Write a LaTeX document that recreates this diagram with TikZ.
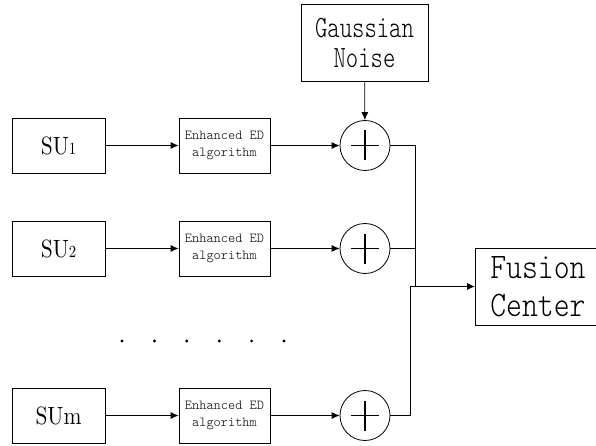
\documentclass[tikz,border=0pt]{standalone}
\usepackage{fontspec}
\newfontfamily\sufont[FakeStretch=0.86]{lmroman10-regular.otf}
\newfontfamily\edfont{lmmonolt10-regular.otf}
\newfontfamily\tallfont[FakeStretch=0.76]{lmmonolt10-regular.otf}
\newfontfamily\fusionfont[FakeStretch=0.84]{lmmonolt10-regular.otf}
\usetikzlibrary{arrows.meta, positioning}

\begin{document}
\begin{tikzpicture}[x=1pt, y=1pt, line width=0.8pt]
    % settings for the whole picture
    \tikzset{
      >={Latex[length=8pt, width=7pt]},
      subox/.style={draw, minimum width=93pt, minimum height=55pt, inner sep=0pt,
        font=\sufont\fontsize{25}{25}\selectfont},
      edbox/.style={draw, minimum width=91pt, minimum height=55pt, inner sep=0pt,
        align=center, font=\edfont\fontsize{13.7}{17}\selectfont},
      adder/.style={draw, circle, minimum size=50pt, inner sep=0pt,
        path picture={
          \draw[line width=1.8pt]
            ([xshift=-14pt]path picture bounding box.center) -- ([xshift=14pt]path picture bounding box.center)
            ([yshift=-15pt]path picture bounding box.center) -- ([yshift=15pt]path picture bounding box.center);
        }},
      bigbox/.style={draw, minimum height=77pt, inner sep=0pt, align=center},
    }
    \useasboundingbox (0,0) rectangle (596,-446);

    % secondary users
    \node[subox] (su1) at (58.5,-145.5) {SU{\fontsize{17}{17}\selectfont 1}};
    \node[subox] (su2) at (58.5,-248.5) {SU{\fontsize{17}{17}\selectfont 2}};
    \node[subox] (sum) at (58.5,-415.5) {SUm};

    % detectors
    \node[edbox] (ed1) at (224.5,-145.5) {Enhanced ED\\algorithm};
    \node[edbox] (ed2) at (224.5,-248.5) {Enhanced ED\\algorithm};
    \node[edbox] (edm) at (224.5,-415.5) {Enhanced ED\\algorithm};

    % adders
    \node[adder] (add1) at (365,-145.5) {};
    \node[adder] (add2) at (365,-248.5) {};
    \node[adder] (addm) at (365,-415.5) {};

    \node[bigbox, minimum width=127pt, font=\tallfont\fontsize{31}{30}\selectfont]
      (noise) at (364.5,-42.5) {Gaussian\\Noise};
    \node[bigbox, minimum width=125pt, anchor=west, font=\fusionfont\fontsize{36}{38}\selectfont]
      (fusion) at (475,-286.5) {Fusion\\Center};

    \coordinate (bus) at (415,-286.5);
    \coordinate (bend) at (410,-286.5);

    % dots
    \foreach \i in {0,...,5}
      \fill (122+32.4*\i,-341) circle (1.6pt);

    % connections
    \draw[->] (su1) -- (ed1);
    \draw[->] (su2) -- (ed2);
    \draw[->] (sum) -- (edm);
    \draw[->] (ed1) -- (add1);
    \draw[->] (ed2) -- (add2);
    \draw[->] (edm) -- (addm);
    \draw[->] (noise) -- (add1);
    \draw (add1.east) -| (bus);
    \draw (add2.east) -- (add2.east -| bus);
    \draw (addm.east) -| (bend);
    \draw[->] (bend) -- (fusion.west);
\end{tikzpicture}
\end{document}
